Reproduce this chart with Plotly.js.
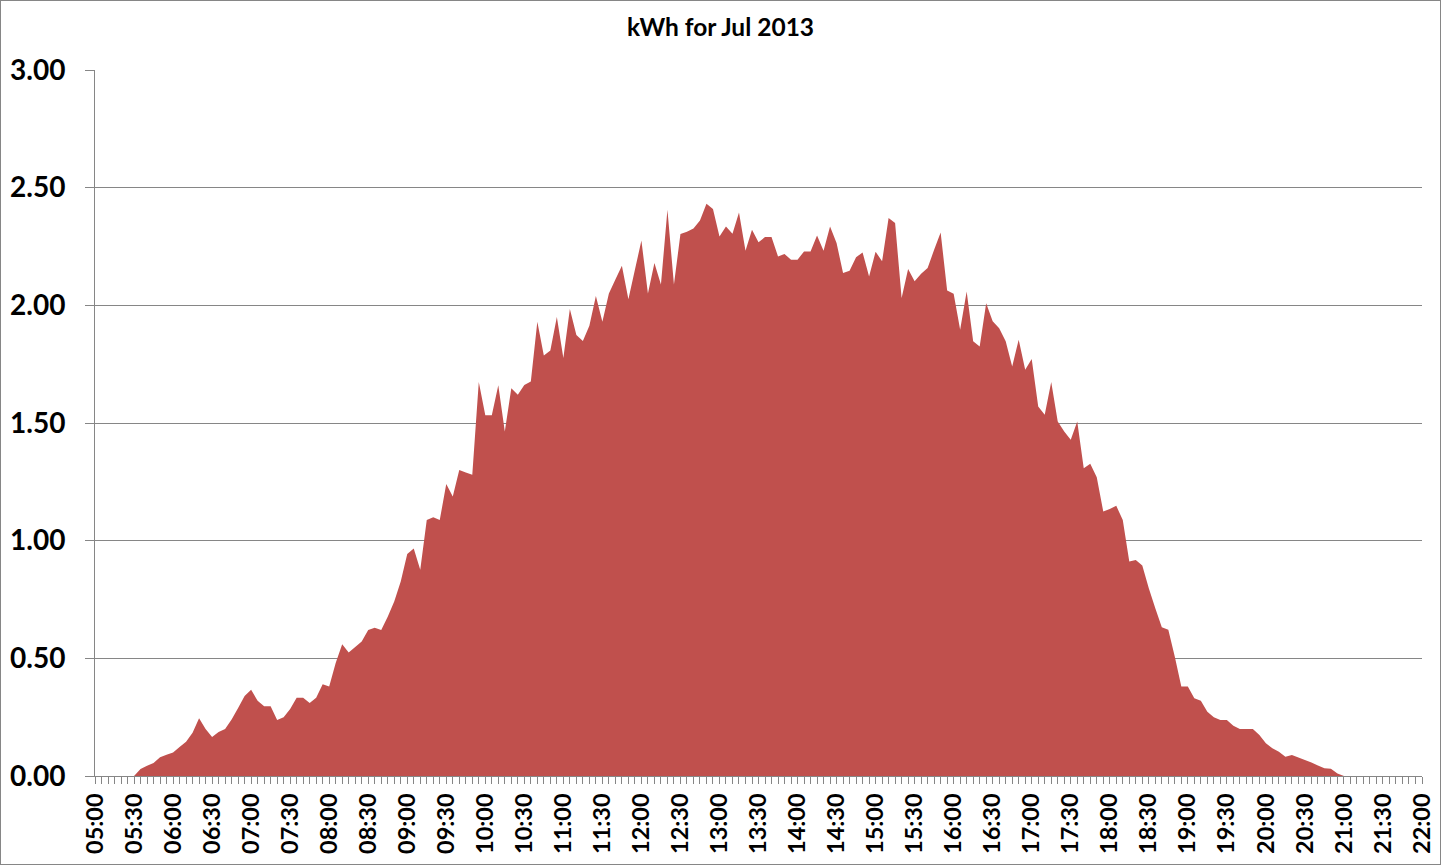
<!DOCTYPE html>
<html>
<head>
<meta charset="utf-8">
<script src="https://cdn.plot.ly/plotly-3.0.1.min.js"></script>
<style>
  html, body { margin: 0; padding: 0; background: #ffffff; }
  #chart { width: 1441px; height: 865px; }
  #frame { position: absolute; left: 0; top: 0; width: 1439px; height: 863px; border: 1px solid #868686; pointer-events: none; }
</style>
</head>
<body>
<div id="chart"></div>
<div id="frame"></div>
<script>
// Chart title and axis labels
const chartTitle = "kWh for Jul 2013";
const dayDate = "2013-07-01";
const startTime = "05:00";
const endTime = "22:00";
const stepMinutes = 5;

// kWh per 5-minute interval, 05:00 .. 22:00 (205 readings)
const kwh = [
  0, 0, 0, 0, 0, 0, 0, 0.03, 0.044, 0.055,
  0.08, 0.09, 0.10, 0.123, 0.146, 0.184, 0.245, 0.20, 0.166, 0.187,
  0.20, 0.24, 0.289, 0.34, 0.366, 0.32, 0.296, 0.296, 0.238, 0.25,
  0.285, 0.332, 0.332, 0.31, 0.333, 0.39, 0.38, 0.48, 0.56, 0.525,
  0.548, 0.571, 0.62, 0.63, 0.62, 0.677, 0.741, 0.826, 0.943, 0.967,
  0.876, 1.088, 1.10, 1.088, 1.241, 1.188, 1.30, 1.29, 1.28, 1.674,
  1.533, 1.533, 1.66, 1.464, 1.648, 1.62, 1.662, 1.676, 1.93, 1.787,
  1.808, 1.95, 1.776, 1.984, 1.874, 1.848, 1.913, 2.04, 1.93, 2.05,
  2.11, 2.168, 2.026, 2.151, 2.275, 2.05, 2.18, 2.088, 2.406, 2.088,
  2.303, 2.313, 2.326, 2.361, 2.432, 2.409, 2.293, 2.335, 2.304, 2.395,
  2.232, 2.321, 2.268, 2.29, 2.29, 2.208, 2.218, 2.194, 2.194, 2.229,
  2.229, 2.297, 2.232, 2.335, 2.265, 2.137, 2.147, 2.204, 2.225, 2.123,
  2.228, 2.187, 2.371, 2.35, 2.031, 2.154, 2.102, 2.134, 2.159, 2.236,
  2.31, 2.063, 2.049, 1.896, 2.059, 1.847, 1.825, 2.009, 1.932, 1.903,
  1.847, 1.74, 1.854, 1.726, 1.772, 1.57, 1.535, 1.674, 1.506, 1.464,
  1.429, 1.506, 1.308, 1.327, 1.27, 1.124, 1.135, 1.148, 1.088, 0.911,
  0.918, 0.894, 0.798, 0.713, 0.632, 0.621, 0.507, 0.38, 0.38, 0.33,
  0.32, 0.273, 0.25, 0.238, 0.238, 0.213, 0.20, 0.20, 0.20, 0.174,
  0.139, 0.118, 0.103, 0.082, 0.089, 0.079, 0.068, 0.057, 0.045, 0.033,
  0.031, 0.011, 0, 0, 0, 0, 0, 0, 0, 0,
  0, 0, 0, 0, 0
];

// Y axis ticks
const yTickVals = [0, 0.5, 1, 1.5, 2, 2.5, 3];
const yTickText = ["0.00", "0.50", "1.00", "1.50", "2.00", "2.50", "3.00"];

// Time categories (one per reading)
function pad(n) { return (n < 10 ? "0" : "") + n; }
const times = [];
{
  const [sh, sm] = startTime.split(":").map(Number);
  for (let k = 0; k < kwh.length; k++) {
    const m = sh * 60 + sm + k * stepMinutes;
    times.push(dayDate + " " + pad(Math.floor(m / 60)) + ":" + pad(m % 60));
  }
}

const grey = "#868686";
const FONT = "Lato, 'Open Sans', 'DejaVu Sans', sans-serif";

const trace = {
  x: times,
  y: kwh,
  type: "scatter",
  mode: "none",
  fill: "tozeroy",
  fillcolor: "#C0504D",
  hoverinfo: "x+y"
};

const layout = {
  width: 1441,
  height: 865,
  paper_bgcolor: "#ffffff",
  plot_bgcolor: "#ffffff",
  showlegend: false,
  margin: { l: 95, r: 19, t: 70, b: 89, pad: 0 },
  title: {
    text: chartTitle,
    font: { family: FONT, size: 24.5, color: "#000000", weight: "bold" },
    xref: "container", x: 0.5, xanchor: "center",
    yref: "container", y: 1 - 27 / 865, yanchor: "middle"
  },
  xaxis: {
    type: "date",
    range: [dayDate + " " + startTime, dayDate + " " + endTime],
    tickformat: "%H:%M",
    tick0: dayDate + " " + startTime,
    dtick: 30 * 60 * 1000,
    tickangle: -90,
    ticks: "outside",
    ticklen: 7,
    tickwidth: 1,
    tickcolor: grey,
    minor: { dtick: 5 * 60 * 1000, ticks: "outside", ticklen: 7, tickwidth: 1, tickcolor: grey, showgrid: false },
    showgrid: false,
    zeroline: false,
    showline: true,
    linecolor: grey,
    linewidth: 1,
    tickfont: { family: FONT, size: 23.5, color: "#000000", weight: "bold" },
    fixedrange: true
  },
  yaxis: {
    range: [0, 3],
    tickvals: yTickVals,
    ticktext: yTickText,
    ticks: "outside",
    ticklen: 9,
    tickwidth: 1,
    tickcolor: grey,
    showgrid: true,
    gridcolor: grey,
    gridwidth: 1,
    zeroline: false,
    showline: true,
    linecolor: grey,
    linewidth: 1,
    ticklabelstandoff: 14,
    tickfont: { family: FONT, size: 28, color: "#000000", weight: "bold" },
    fixedrange: true
  }
};

Plotly.newPlot("chart", [trace], layout, { displayModeBar: false, staticPlot: true });
</script>
</body>
</html>
